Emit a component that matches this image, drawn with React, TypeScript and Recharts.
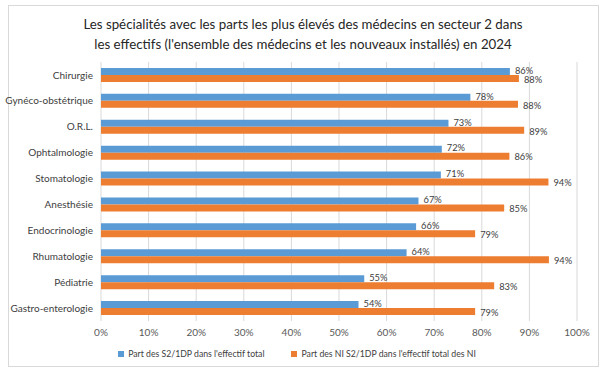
import { BarChart, Bar, XAxis, YAxis, CartesianGrid, Legend, LabelList } from "recharts";

/* ── Data ─────────────────────────────────────────────────────── */
const specialites = [
  "Chirurgie",
  "Gynéco-obstétrique",
  "O.R.L.",
  "Ophtalmologie",
  "Stomatologie",
  "Anesthésie",
  "Endocrinologie",
  "Rhumatologie",
  "Pédiatrie",
  "Gastro-enterologie",
];
const partS2Total = [85.9, 77.6, 73.0, 71.6, 71.4, 66.7, 66.2, 64.2, 55.3, 54.1];
const partNiS2 = [87.8, 87.6, 88.9, 85.8, 94.0, 84.7, 78.6, 94.1, 82.6, 78.6];
const xTicks = [0, 10, 20, 30, 40, 50, 60, 70, 80, 90, 100];

const titleLines = [
  "Les spécialités avec les parts les plus élevés des médecins en secteur 2 dans",
  "les effectifs (l'ensemble des médecins et les nouveaux installés) en 2024",
];
const seriesNames = [
  "Part des S2/1DP dans l'effectif total",
  "Part des NI S2/1DP dans l'effectif total des NI",
];

const FONT = "Lato, 'Open Sans', sans-serif";
const BLUE = "#5B9BD5";
const ORANGE = "#ED7D31";

const data = specialites.map((name, i) => ({
  name,
  total: partS2Total[i],
  ni: partNiS2[i],
}));

const pct = (v: unknown) => `${Math.round(Number(v))}%`;

/* ── Legend, in series order, Excel-like spacing ─────────────── */
function SeriesLegend() {
  const items = [
    { label: seriesNames[0], color: BLUE },
    { label: seriesNames[1], color: ORANGE },
  ];
  return (
    <div
      style={{
        display: "flex",
        justifyContent: "center",
        gap: 27,
        fontSize: 8.7,
        lineHeight: "16px",
        color: "#404040",
        fontFamily: FONT,
        paddingLeft: 9,
      }}
    >
      {items.map((it) => (
        <div key={it.label} style={{ display: "flex", alignItems: "center" }}>
          <span
            style={{
              width: 6,
              height: 6,
              background: it.color,
              marginRight: 4,
              display: "inline-block",
            }}
          />
          {it.label}
        </div>
      ))}
    </div>
  );
}

export default function App() {
  return (
    <div
      style={{
        position: "absolute",
        left: 0,
        top: 0,
        width: 605,
        height: 376,
        background: "#fff",
        fontFamily: FONT,
        overflow: "hidden",
      }}
    >
      {/* frame */}
      <div
        style={{
          position: "absolute",
          left: 8,
          top: 5,
          width: 589,
          height: 360,
          border: "1px solid #d9d9d9",
        }}
      />
      {/* title */}
      <div
        style={{
          position: "absolute",
          left: 0,
          top: 14,
          width: 606,
          textAlign: "center",
          fontSize: 13.3,
          lineHeight: "20px",
          color: "#262626",
        }}
      >
        {titleLines.map((t) => (
          <div key={t}>{t}</div>
        ))}
      </div>
      <div style={{ position: "absolute", left: 0, top: 0 }}>
        <BarChart
          width={605}
          height={376}
          data={data}
          layout="vertical"
          margin={{ top: 62, right: 28, left: 8, bottom: 14 }}
          barCategoryGap="23%"
          barGap={0}
        >
          <CartesianGrid horizontal={false} stroke="#d9d9d9" />
          <XAxis
            type="number"
            domain={[0, 100]}
            ticks={xTicks}
            tickFormatter={(v) => `${v}%`}
            axisLine={false}
            tickLine={false}
            height={25}
            tick={{ fill: "#595959", fontSize: 10, fontFamily: FONT }}
            tickMargin={2}
          />
          <YAxis
            type="category"
            dataKey="name"
            width={93}
            axisLine={false}
            tickLine={false}
            tick={{ fill: "#404040", fontSize: 10, fontFamily: FONT }}
            tickMargin={2}
          />
          <Legend verticalAlign="bottom" align="center" content={<SeriesLegend />} />
          <Bar dataKey="total" name={seriesNames[0]} fill={BLUE} isAnimationActive={false}>
            <LabelList
              dataKey="total"
              position="right"
              offset={5}
              dy={-1}
              formatter={pct}
              style={{ fill: "#404040", fontSize: 9.3, fontFamily: FONT }}
            />
          </Bar>
          <Bar dataKey="ni" name={seriesNames[1]} fill={ORANGE} isAnimationActive={false}>
            <LabelList
              dataKey="ni"
              position="right"
              offset={5}
              dy={1}
              formatter={pct}
              style={{ fill: "#404040", fontSize: 9.3, fontFamily: FONT }}
            />
          </Bar>
        </BarChart>
      </div>
    </div>
  );
}
